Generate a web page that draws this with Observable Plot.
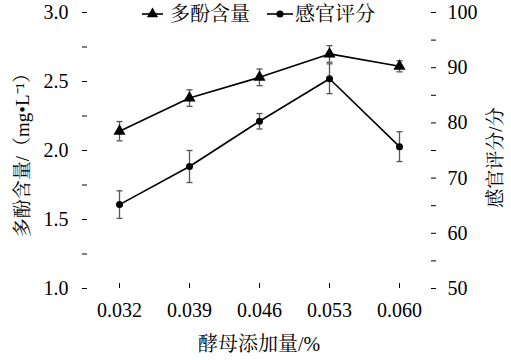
<!DOCTYPE html>
<html><head><meta charset="utf-8">
<script src="https://cdn.jsdelivr.net/npm/d3@7"></script>
<script src="https://cdn.jsdelivr.net/npm/@observablehq/plot@0.6"></script>
<style>
body{margin:0;background:#fff;}
#wrap{position:relative;width:511px;height:360px;}
#legend{position:absolute;top:0;left:138px;}
</style></head><body>
<div id="wrap"><div id="chart"></div><svg id="legend" width="260" height="28"></svg></div>
<script>
// ---- data ----
const doses = ["0.032", "0.039", "0.046", "0.053", "0.060"];
const polyphenol = [2.14, 2.38, 2.53, 2.70, 2.61];
const polyphenolErr = [0.07, 0.06, 0.06, 0.06, 0.04];
const sensory = [65.2, 72.1, 80.3, 88.0, 75.7];
const sensoryErr = [2.5, 2.9, 1.4, 2.7, 2.7];
const leftTicks = [1, 1.25, 1.5, 1.75, 2, 2.25, 2.5, 2.75, 3];
const leftTickLabels = ["1.0", "", "1.5", "", "2.0", "", "2.5", "", "3.0"];
const rightTicks = [50, 55, 60, 65, 70, 75, 80, 85, 90, 95, 100];
const rightTickLabels = ["50", "", "60", "", "70", "", "80", "", "90", "", "100"];
const seriesNames = ["多酚含量", "感官评分"];
const xTitle = "酵母添加量/%";
const yLeftTitle = "多酚含量/（mg•L⁻¹）";
const yRightTitle = "感官评分/分";

// map right-axis values (50–100) onto the left scale (1–3)
const toLeft = v => 1 + (v - 50) / 25;

const poly = doses.map((d, i) => ({dose: d, v: polyphenol[i], lo: polyphenol[i] - polyphenolErr[i], hi: polyphenol[i] + polyphenolErr[i]}));
const sens = doses.map((d, i) => ({dose: d, v: toLeft(sensory[i]), lo: toLeft(sensory[i] - sensoryErr[i]), hi: toLeft(sensory[i] + sensoryErr[i])}));
const caps = [...poly, ...sens].flatMap(d => [{dose: d.dose, y: d.lo}, {dose: d.dose, y: d.hi}]);

const capSymbol = {draw(ctx, size) { const w = Math.sqrt(size / Math.PI); ctx.moveTo(-w, 0); ctx.lineTo(w, 0); }};

const font = "'Liberation Serif', 'Noto Serif CJK SC', serif";
const errColor = "#555";

const chart = Plot.plot({
  width: 511, height: 360,
  marginLeft: 82, marginRight: 76, marginTop: 12, marginBottom: 72,
  x: {type: "point", domain: doses, padding: 0.5},
  y: {domain: [1, 3]},
  style: `font-family: ${font}; font-size: 20px; color: #000; background: #fff;`,
  marks: [
    Plot.axisY({anchor: "left", ticks: leftTicks, tickFormat: d => leftTickLabels[leftTicks.indexOf(d)], tickSize: -5, tickPadding: 19, line: true, label: null, fontSize: 20}),
    Plot.axisY({anchor: "right", ticks: rightTicks.map(toLeft), tickFormat: (d, i) => rightTickLabels[i], tickSize: -5, tickPadding: 17, line: true, label: null, fontSize: 20}),
    Plot.axisX({anchor: "bottom", tickSize: -5, tickPadding: 19, line: true, label: null, fontSize: 20}),
    Plot.text([yLeftTitle], {frameAnchor: "left", dx: -60, rotate: -90, textAnchor: "middle", lineAnchor: "middle", fontSize: 19}),
    Plot.text([yRightTitle], {frameAnchor: "right", dx: 60, dy: 7, rotate: -90, textAnchor: "middle", lineAnchor: "middle", fontSize: 19}),
    Plot.text([xTitle], {frameAnchor: "bottom", dy: 56, lineAnchor: "middle", fontSize: 20}),
    Plot.ruleX(poly, {x: "dose", y1: "lo", y2: "hi", stroke: errColor, strokeWidth: 1.3}),
    Plot.ruleX(sens, {x: "dose", y1: "lo", y2: "hi", stroke: errColor, strokeWidth: 1.3}),
    Plot.dot(caps, {x: "dose", y: "y", symbol: capSymbol, r: 3, fill: "none", stroke: errColor, strokeWidth: 1.3}),
    Plot.line(poly, {x: "dose", y: "v", stroke: "#000", strokeWidth: 1.6}),
    Plot.line(sens, {x: "dose", y: "v", stroke: "#000", strokeWidth: 1.6}),
    Plot.dot(poly, {x: "dose", y: "v", symbol: "triangle", r: 4.5, fill: "#000", stroke: "none"}),
    Plot.dot(sens, {x: "dose", y: "v", symbol: "circle", r: 3.5, fill: "#000", stroke: "none"})
  ]
});
document.getElementById("chart").appendChild(chart);

// legend
const lg = d3.select("#legend");
const items = [{x0: 4, x1: 25, sym: d3.symbolTriangle, size: 55, tx: 32}, {x0: 129, x1: 155, sym: d3.symbolCircle, size: 40, tx: 157}];
items.forEach((it, i) => {
  lg.append("line").attr("x1", it.x0).attr("x2", it.x1).attr("y1", 14).attr("y2", 14).attr("stroke", "#000").attr("stroke-width", 1.6);
  lg.append("path").attr("d", d3.symbol(it.sym, it.size)()).attr("transform", `translate(${(it.x0 + it.x1) / 2},14)`).attr("fill", "#000");
  lg.append("text").attr("x", it.tx).attr("y", 21).attr("font-size", 20).style("font-family", font).text(seriesNames[i]);
});
</script>
</body></html>
